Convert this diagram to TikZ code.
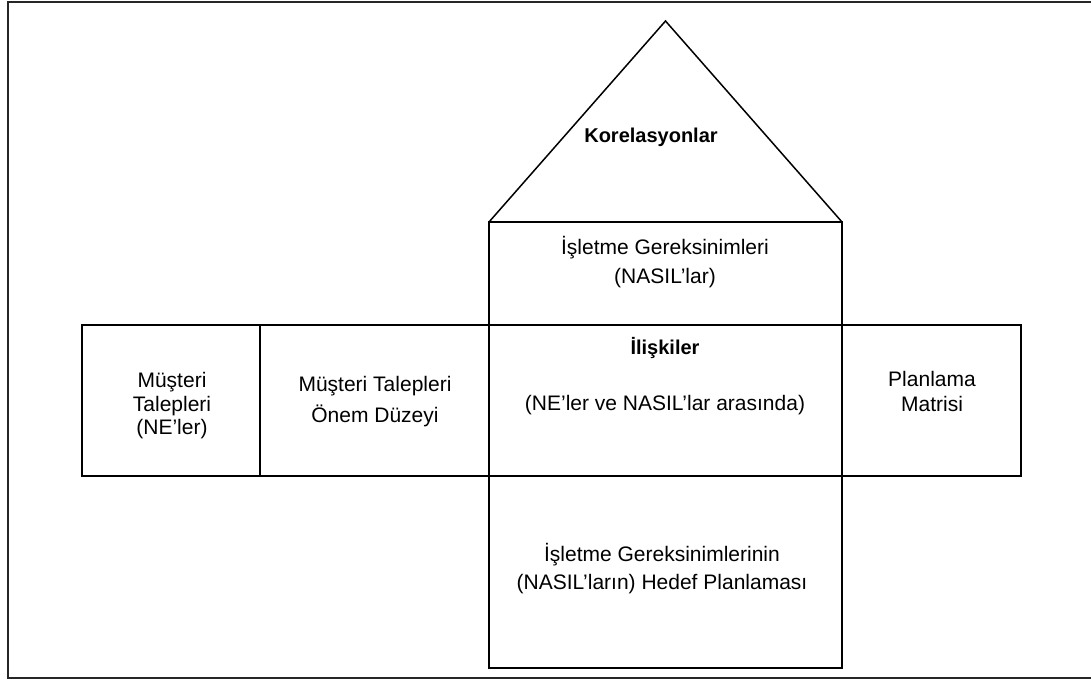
\documentclass[tikz,border=0pt]{standalone}
\usepackage{fontspec}
\setmainfont{Liberation Sans}
\usetikzlibrary{positioning}

\begin{document}
\begin{tikzpicture}[x=1pt,y=-1pt,
                       cell/.style={rectangle,draw,line width=1.5pt,inner sep=0pt,
                                    outer sep=0pt,minimum height=151pt},
                       lbl/.style={align=center,inner sep=0pt},
                       head/.style={lbl,font=\fontsize{20}{23}\selectfont\bfseries}
                           ]
   \useasboundingbox (0,0) rectangle (1091,681);
   \draw[line width=2pt,black!85] (1091,1.5) -- (8,1.5) -- (8,678) -- (1091,678);
   % middle row
   \node[cell,minimum width=178pt] (req) at (171,400.5) {};
   \node[cell,minimum width=229pt] (imp) at (374.5,400.5) {};
   \node[cell,minimum width=353pt] (rel) at (665.5,400.5) {};
   \node[cell,minimum width=179pt] (plan) at (931.5,400.5) {};
   % column
   \node[cell,minimum width=353pt,minimum height=103pt] (hows) at (665.5,273.5) {};
   \node[cell,minimum width=353pt,minimum height=192pt] (targ) at (665.5,572) {};
   \coordinate (apex) at (665.5,21);
   \draw[line width=1.5pt,line join=miter] (hows.north west) -- (apex) -- (hows.north east);
   % labels
   \node[head] (corr) at (651,137) {Korelasyonlar};
   \node[lbl,font=\fontsize{21}{29}\selectfont] (howst) at (665,262.5)
        {İşletme Gereksinimleri\\(NASIL’lar)};
   \node[head] (relh) at (665,348) {İlişkiler};
   \node[lbl,font=\fontsize{21}{24}\selectfont] (relt) at (665,405)
        {(NE’ler ve NASIL’lar arasında)};
   \node[lbl,font=\fontsize{21}{23.5}\selectfont] (reqt) at (172,406)
        {Müşteri\\Talepleri\\(NE’ler)};
   \node[lbl,font=\fontsize{21}{31}\selectfont] (impt) at (375,401.5)
        {Müşteri Talepleri\\Önem Düzeyi};
   \node[lbl,font=\fontsize{21}{25}\selectfont] (plant) at (932,391.5)
        {Planlama\\Matrisi};
   \node[lbl,font=\fontsize{21}{28}\selectfont] (targt) at (662,569)
        {İşletme Gereksinimlerinin\\(NASIL’ların) Hedef Planlaması};
\end{tikzpicture}
\end{document}
